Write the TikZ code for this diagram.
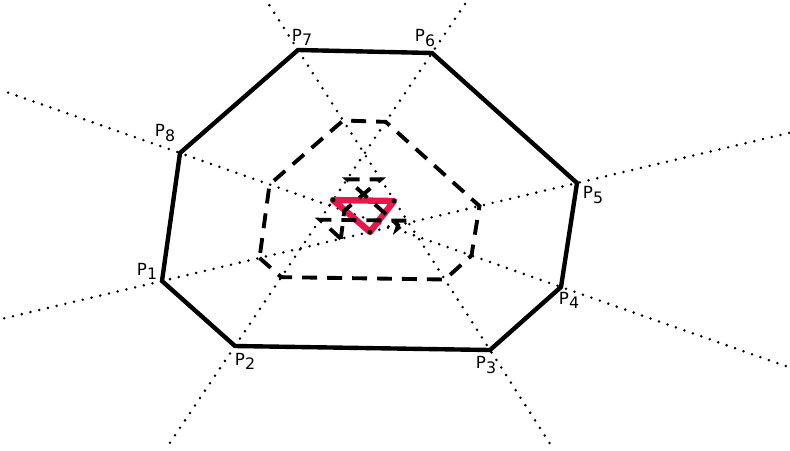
\documentclass[tikz,border=0pt]{standalone}
\usepackage{fontspec}
\setmainfont{DejaVu Sans}
\usetikzlibrary{calc}
\definecolor{limitred}{HTML}{E8174B}
\newcommand{\pname}[1]{P\raisebox{-0.45ex}{\small #1}}

\begin{document}
\begin{tikzpicture}[x=0.02cm, y=-0.02cm,
  diag/.style={line width=1.6pt, line cap=round, dash pattern=on 0pt off 5.1pt},
  outer/.style={line width=2.5pt, line join=miter},
  inner/.style={line width=2.2pt, dash pattern=on 8.5pt off 5.7pt},
  limit/.style={limitred, line width=3.6pt, line join=round},
  plab/.style={font=\fontsize{9.5}{11}\selectfont, inner sep=0pt}]
  \useasboundingbox (0,0) rectangle (790,450);

  % corners of the octagon
  \coordinate (P1) at (162,281);
  \coordinate (P2) at (235,346);
  \coordinate (P3) at (490,350);
  \coordinate (P4) at (561,287);
  \coordinate (P5) at (577,183);
  \coordinate (P6) at (432,53);
  \coordinate (P7) at (298,50);
  \coordinate (P8) at (180,153);

  % long diagonals, out to the border
  \draw[diag] ($(P1)!-0.38!(P5)$) -- ($(P1)!1.52!(P5)$);
  \draw[diag] ($(P2)!-0.33!(P6)$) -- ($(P2)!1.17!(P6)$);
  \draw[diag] ($(P3)!-0.31!(P7)$) -- ($(P3)!1.15!(P7)$);
  \draw[diag] ($(P4)!-0.59!(P8)$) -- ($(P4)!1.46!(P8)$);

  % first step inwards
  \foreach \i/\j in {1/5,2/6,3/7,4/8,5/1,6/2,7/3,8/4}
    \coordinate (Q\i) at ($(P\i)!0.235!(P\j)$);
  % second step inwards
  \foreach \i/\j in {1/5,2/6,3/7,4/8,5/1,6/2,7/3,8/4}
    \coordinate (R\i) at ($(Q\i)!0.37!(Q\j)$);

  % limit triangle
  \coordinate (T1) at (333,200);
  \coordinate (T2) at (394,201);
  \coordinate (T3) at (370,232);
  \draw[limit] (T1) -- (T2) -- (T3) -- cycle;
  \foreach \k in {1,2,3}
    \fill (T\k) circle (1.4pt);

  \draw[inner] (Q1) -- (Q2) -- (Q3) -- (Q4) -- (Q5) -- (Q6) -- (Q7) -- (Q8) -- cycle;
  \draw[inner] (R1) -- (R2) -- (R3) -- (R4) -- (R5) -- (R6) -- (R7) -- (R8) -- cycle;

  \draw[outer] (P1) -- (P2) -- (P3) -- (P4) -- (P5) -- (P6) -- (P7) -- (P8) -- cycle;

  % labels
  \node[plab] (L1) at (147,271) {\pname{1}};
  \node[plab] (L2) at (245,361) {\pname{2}};
  \node[plab] (L3) at (486,365) {\pname{3}};
  \node[plab] (L4) at (569,300) {\pname{4}};
  \node[plab] (L5) at (593,195) {\pname{5}};
  \node[plab] (L6) at (425,38) {\pname{6}};
  \node[plab] (L7) at (302,37) {\pname{7}};
  \node[plab] (L8) at (165,133) {\pname{8}};
\end{tikzpicture}
\end{document}
